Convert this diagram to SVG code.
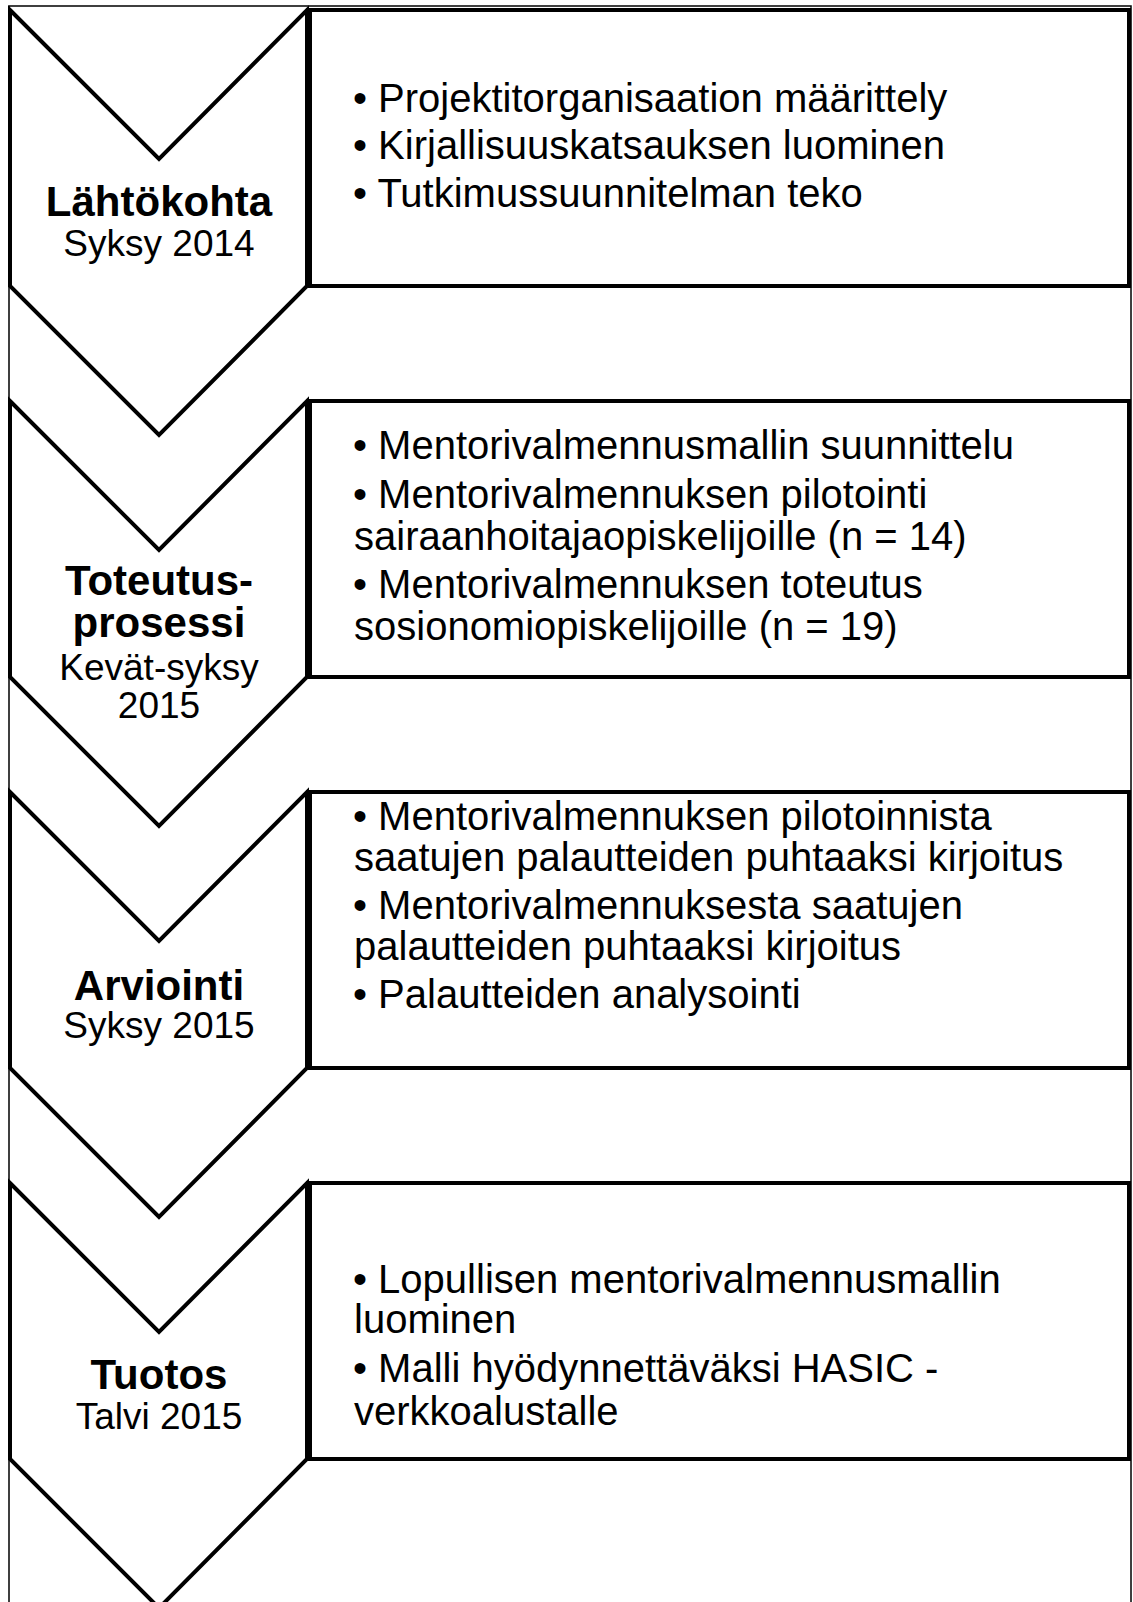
<svg xmlns="http://www.w3.org/2000/svg" width="1133" height="1602" viewBox="0 0 1133 1602">
  <style>
    .frame { fill: none; stroke: #000; stroke-width: 1.5; }
    .chev { fill: #fff; stroke: #000; stroke-width: 4; stroke-linejoin: miter; }
    .box { fill: #fff; stroke: #000; stroke-width: 4; }
    .title { font-family: "Liberation Sans", Arial, sans-serif; font-weight: bold; font-size: 42px; fill: #000; text-anchor: middle; }
    .sub { font-family: "Liberation Sans", Arial, sans-serif; font-size: 37px; fill: #000; text-anchor: middle; }
    .item { font-family: "Liberation Sans", Arial, sans-serif; font-size: 40px; fill: #000; }
  </style>
  <rect x="0" y="0" width="1133" height="1602" fill="#fff"/>
  <rect class="frame" x="9" y="6" width="1122" height="1610"/>
  <g id="connectors"></g>

  <g id="stage1">
    <path class="chev" d="M10,10 L159,159 L307,10 L307,286 L159,435 L10,286 Z"/>
    <rect class="box" x="310" y="10" width="819" height="276"/>
    <text class="title" x="159" y="216">Lähtökohta</text>
    <text class="sub" x="159" y="256">Syksy 2014</text>
    <text class="item" x="353" y="112">• Projektitorganisaation määrittely</text>
    <text class="item" x="353" y="159">• Kirjallisuuskatsauksen luominen</text>
    <text class="item" x="353" y="207">• Tutkimussuunnitelman teko</text>
  </g>

  <g id="stage2">
    <path class="chev" d="M10,401 L159,550 L307,401 L307,677 L159,826 L10,677 Z"/>
    <rect class="box" x="310" y="401" width="819" height="276"/>
    <text class="title" x="159" y="595">Toteutus-</text>
    <text class="title" x="159" y="637">prosessi</text>
    <text class="sub" x="159" y="680">Kevät-syksy</text>
    <text class="sub" x="159" y="718">2015</text>
    <text class="item" x="353" y="459">• Mentorivalmennusmallin suunnittelu</text>
    <text class="item" x="353" y="508">• Mentorivalmennuksen pilotointi</text>
    <text class="item" x="354" y="550">sairaanhoitajaopiskelijoille (n = 14)</text>
    <text class="item" x="353" y="598">• Mentorivalmennuksen toteutus</text>
    <text class="item" x="354" y="640">sosionomiopiskelijoille (n = 19)</text>
  </g>

  <g id="stage3">
    <path class="chev" d="M10,792 L159,941 L307,792 L307,1068 L159,1217 L10,1068 Z"/>
    <rect class="box" x="310" y="792" width="819" height="276"/>
    <text class="title" x="159" y="1000">Arviointi</text>
    <text class="sub" x="159" y="1038">Syksy 2015</text>
    <text class="item" x="353" y="830">• Mentorivalmennuksen pilotoinnista</text>
    <text class="item" x="354" y="871">saatujen palautteiden puhtaaksi kirjoitus</text>
    <text class="item" x="353" y="919">• Mentorivalmennuksesta saatujen</text>
    <text class="item" x="354" y="960">palautteiden puhtaaksi kirjoitus</text>
    <text class="item" x="353" y="1008">• Palautteiden analysointi</text>
  </g>

  <g id="stage4">
    <path class="chev" d="M10,1183 L159,1332 L307,1183 L307,1459 L159,1608 L10,1459 Z"/>
    <rect class="box" x="310" y="1183" width="819" height="276"/>
    <text class="title" x="159" y="1389">Tuotos</text>
    <text class="sub" x="159" y="1429">Talvi 2015</text>
    <text class="item" x="353" y="1293">• Lopullisen mentorivalmennusmallin</text>
    <text class="item" x="354" y="1333">luominen</text>
    <text class="item" x="353" y="1382">• Malli hyödynnettäväksi HASIC -</text>
    <text class="item" x="354" y="1425">verkkoalustalle</text>
  </g>
</svg>
